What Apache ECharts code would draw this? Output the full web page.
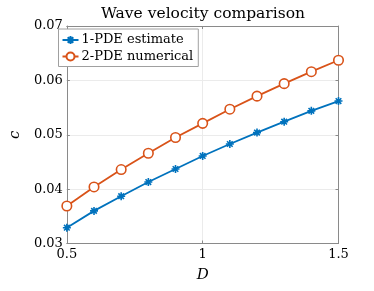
<!DOCTYPE html>
<html><head><meta charset="utf-8">
<script src="https://cdn.jsdelivr.net/npm/echarts@6/dist/echarts.min.js"></script>
<style>html,body{margin:0;padding:0;background:#fff}#c{width:374px;height:291px}</style>
</head><body><div id="c"></div>
<script>
const D = [0.5,0.6,0.7,0.8,0.9,1.0,1.1,1.2,1.3,1.4,1.5];
const estimate1PDE = [0.0329,0.0360,0.0387,0.0413,0.0437,0.0461,0.0483,0.0504,0.0524,0.0544,0.0562];
const numerical2PDE = [0.0369,0.0404,0.0436,0.0466,0.0495,0.0521,0.0547,0.0571,0.0594,0.0616,0.0637];
const seriesNames = ['1-PDE estimate','2-PDE numerical'];
const xTicks = [0.5,1,1.5];
const yTicks = [0.03,0.04,0.05,0.06,0.07];

const FONT = 'DejaVu Serif';
const AX = '#8a8a8a';
const star = 'path://M5,0L5,10M0,5L10,5M1.5,1.5L8.5,8.5M1.5,8.5L8.5,1.5';
const chart = echarts.init(document.getElementById('c'));
const pairs = a => D.map((d,i)=>[d,a[i]]);
const fmtX = v => { const t = xTicks.find(x=>Math.abs(x-v)<1e-9); return t===undefined?'':String(t); };
const fmtY = v => { const t = yTicks.find(y=>Math.abs(y-v)<1e-9); return t===undefined?'':t.toFixed(2); };
const baseX = {type:'value',min:0.5,max:1.5,interval:0.5};
const baseY = {type:'value',min:0.03,max:0.07,interval:0.01};
chart.setOption({
  animation:false,
  title:{text:'Wave velocity comparison',left:198,top:1,textAlign:'center',
    textStyle:{fontFamily:FONT,fontSize:15.5,fontWeight:'normal',color:'#000'}},
  grid:{left:57.5,right:35.5,top:26,bottom:47.5},
  legend:{orient:'vertical',left:58.5,top:29,padding:[4,5,3,3],itemGap:2.5,itemWidth:16,itemHeight:10,
    borderColor:'#a0a0a0',borderWidth:1,backgroundColor:'#fff',
    textStyle:{fontFamily:FONT,fontSize:13,lineHeight:14,color:'#000',padding:[0,0,0,-2]},data:seriesNames},
  xAxis:[
    Object.assign({},baseX,{position:'bottom',name:'D',nameLocation:'middle',nameGap:24,
      nameTextStyle:{fontFamily:FONT,fontSize:15,fontStyle:'italic',color:'#000'},
      axisLine:{show:true,lineStyle:{color:AX,width:1}},
      axisTick:{show:true,inside:true,length:3,lineStyle:{color:AX}},
      axisLabel:{formatter:fmtX,fontFamily:FONT,fontSize:13,color:'#000',margin:5},
      splitLine:{show:true,lineStyle:{color:'#ebebeb',width:1}}}),
    Object.assign({},baseX,{position:'top',axisLine:{show:true,lineStyle:{color:AX,width:1}},
      axisTick:{show:true,inside:true,length:3,lineStyle:{color:AX}},axisLabel:{show:false},splitLine:{show:false}})
  ],
  yAxis:[
    Object.assign({},baseY,{position:'left',name:'c',nameLocation:'middle',nameGap:43,nameRotate:90,
      nameTextStyle:{fontFamily:FONT,fontSize:15,fontStyle:'italic',color:'#000'},
      axisLine:{show:true,lineStyle:{color:AX,width:1}},
      axisTick:{show:true,inside:true,length:3,lineStyle:{color:AX}},
      axisLabel:{formatter:fmtY,fontFamily:FONT,fontSize:13,color:'#000',margin:4},
      splitLine:{show:true,lineStyle:{color:'#ebebeb',width:1}}}),
    Object.assign({},baseY,{position:'right',axisLine:{show:true,lineStyle:{color:AX,width:1}},
      axisTick:{show:true,inside:true,length:3,lineStyle:{color:AX}},axisLabel:{show:false},splitLine:{show:false}})
  ],
  series:[
    {name:seriesNames[0],type:'line',data:pairs(estimate1PDE),symbol:star,symbolSize:8,
      lineStyle:{color:'#0072BD',width:1.8},
      itemStyle:{color:'#0072BD',borderColor:'#0072BD',borderWidth:1.6}},
    {name:seriesNames[1],type:'line',data:pairs(numerical2PDE),symbol:'circle',symbolSize:9.5,
      lineStyle:{color:'#D95319',width:1.8},
      itemStyle:{color:'#fff',borderColor:'#D95319',borderWidth:1.6}}
  ]
});
</script></body></html>
